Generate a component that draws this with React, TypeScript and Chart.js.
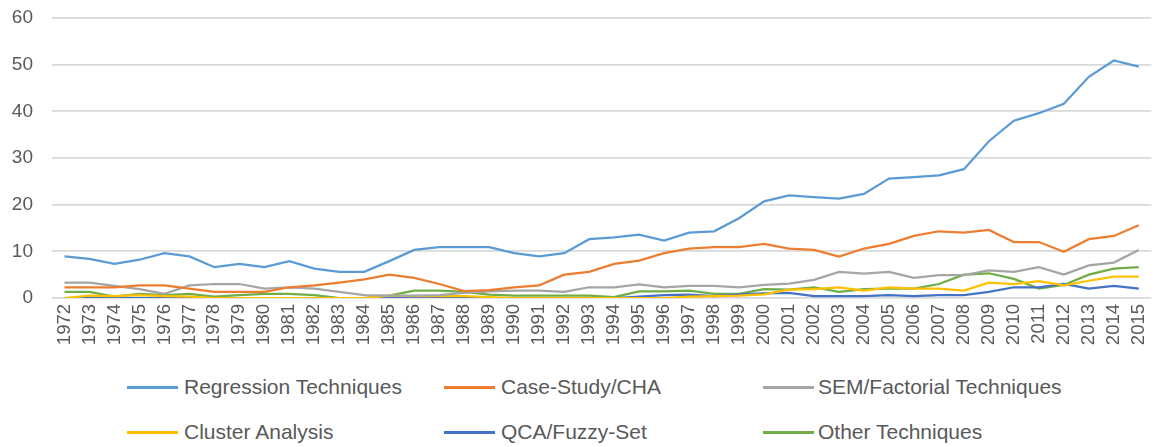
import React, { useEffect, useRef } from "react";
import { Chart, registerables } from "chart.js";

Chart.register(...registerables);

const years: string[] = [
  "1972","1973","1974","1975","1976","1977","1978","1979","1980","1981",
  "1982","1983","1984","1985","1986","1987","1988","1989","1990","1991",
  "1992","1993","1994","1995","1996","1997","1998","1999","2000","2001",
  "2002","2003","2004","2005","2006","2007","2008","2009","2010","2011",
  "2012","2013","2014","2015",
];

const regression: number[] = [
  8.9, 8.4, 7.3, 8.2, 9.6, 8.9, 6.6, 7.3, 6.6, 7.9,
  6.3, 5.6, 5.6, 7.9, 10.3, 10.9, 10.9, 10.9, 9.6, 8.9,
  9.6, 12.6, 13.0, 13.6, 12.3, 14.0, 14.3, 17.1, 20.7, 22.0,
  21.6, 21.3, 22.3, 25.6, 25.9, 26.3, 27.6, 33.6, 38.0, 39.6,
  41.6, 47.4, 50.9, 49.6,
];

const caseStudy: number[] = [
  2.3, 2.3, 2.3, 2.7, 2.7, 2.0, 1.3, 1.3, 1.3, 2.3,
  2.7, 3.3, 4.0, 5.0, 4.3, 3.0, 1.5, 1.7, 2.3, 2.7,
  5.0, 5.6, 7.3, 8.0, 9.6, 10.6, 10.9, 10.9, 11.6, 10.6,
  10.3, 8.9, 10.6, 11.6, 13.3, 14.3, 14.0, 14.6, 12.0, 12.0,
  9.9, 12.6, 13.3, 15.6,
];

const sem: number[] = [
  3.3, 3.3, 2.6, 1.9, 0.9, 2.7, 3.0, 3.0, 2.0, 2.3,
  2.0, 1.3, 0.6, 0.5, 0.5, 0.6, 1.1, 1.4, 1.6, 1.6,
  1.3, 2.3, 2.3, 2.9, 2.3, 2.6, 2.6, 2.3, 2.8, 3.1,
  3.9, 5.6, 5.2, 5.6, 4.3, 4.9, 4.9, 5.9, 5.6, 6.6,
  5.0, 7.0, 7.6, 10.3,
];

const cluster: number[] = [
  0.0, 0.5, 0.4, 0.6, 0.4, 0.3, 0.0, 0.0, 0.0, 0.0,
  0.0, 0.0, 0.0, 0.5, 0.4, 0.4, 0.4, 0.2, 0.0, 0.0,
  0.0, 0.0, 0.0, 0.0, 0.0, 0.3, 0.4, 0.5, 0.8, 1.8,
  1.9, 2.3, 1.6, 2.3, 2.0, 2.0, 1.6, 3.3, 3.0, 3.6,
  2.7, 3.7, 4.6, 4.6,
];

const qca: number[] = [
  0, 0, 0, 0, 0, 0, 0, 0, 0, 0,
  0, 0, 0, 0, 0, 0, 0, 0, 0, 0,
  0, 0, 0, 0.3, 0.6, 0.7, 0.4, 0.8, 1.0, 1.1,
  0.4, 0.4, 0.4, 0.6, 0.4, 0.6, 0.6, 1.3, 2.3, 2.3,
  3.0, 2.0, 2.6, 2.0,
];

const other: number[] = [
  1.3, 1.3, 0.3, 0.9, 0.6, 0.9, 0.3, 0.6, 0.9, 0.9,
  0.6, 0.0, 0.0, 0.5, 1.6, 1.6, 1.3, 0.7, 0.5, 0.5,
  0.5, 0.5, 0.2, 1.4, 1.4, 1.6, 0.9, 0.9, 1.9, 1.8,
  2.3, 1.3, 1.9, 2.0, 2.0, 3.0, 5.0, 5.3, 4.1, 2.0,
  2.8, 5.0, 6.3, 6.6,
];

const seriesNames: string[] = [
  "Regression Techniques",
  "Case-Study/CHA",
  "SEM/Factorial Techniques",
  "Cluster Analysis",
  "QCA/Fuzzy-Set",
  "Other Techniques",
];

const seriesColors: string[] = ["#5B9BD5", "#ED7D31", "#A5A5A5", "#FFC000", "#4472C4", "#70AD47"];

const yTicks: number[] = [0, 10, 20, 30, 40, 50, 60];

const FONT = "'Liberation Sans', Arial, sans-serif";

export default function App() {
  const canvasRef = useRef<HTMLCanvasElement | null>(null);

  useEffect(() => {
    if (!canvasRef.current) return;
    const values = [regression, caseStudy, sem, cluster, qca, other];
    const chart = new Chart(canvasRef.current, {
      type: "line",
      data: {
        labels: years,
        datasets: values.map((v, i) => ({
          label: seriesNames[i],
          data: v,
          borderColor: seriesColors[i],
          backgroundColor: seriesColors[i],
          borderWidth: 2.25,
          pointRadius: 0,
          tension: 0,
          fill: false,
        })),
      },
      options: {
        animation: false,
        responsive: false,
        layout: { padding: { top: 18, left: 0, right: 0, bottom: 0 } },
        plugins: {
          legend: { display: false },
          tooltip: { enabled: false },
        },
        scales: {
          x: {
            offset: true,
            grid: { display: false, drawTicks: false },
            border: { display: false },
            ticks: {
              autoSkip: false,
              maxRotation: 90,
              minRotation: 90,
              color: "#595959",
              padding: 6,
              font: { family: FONT, size: 18.5 },
            },
            afterFit: (scale: any) => {
              scale.height = 62;
            },
          },
          y: {
            min: 0,
            max: 60,
            afterBuildTicks: (scale: any) => {
              scale.ticks = yTicks.map((v) => ({ value: v }));
            },
            grid: { color: "#d9d9d9", lineWidth: 1.75, drawTicks: false },
            border: { display: false },
            ticks: {
              color: "#595959",
              padding: 19,
              font: { family: FONT, size: 19 },
            },
            afterFit: (scale: any) => {
              scale.width = 52;
              scale.paddingTop = 0;
              scale.paddingBottom = 0;
            },
          },
        },
      },
    });
    return () => chart.destroy();
  }, []);

  const legendCols = [
    { line: 127, text: 184 },
    { line: 444, text: 501 },
    { line: 763, text: 818 },
  ];
  const legendRows = [387, 432];

  return (
    <div
      style={{
        position: "absolute",
        left: 0,
        top: 0,
        width: 1160,
        height: 447,
        overflow: "hidden",
        background: "#ffffff",
      }}
    >
      <canvas
        ref={canvasRef}
        width={1167}
        height={360}
        style={{ position: "absolute", left: 0, top: 0, width: 1167, height: 360 }}
      />
      {seriesNames.map((name, i) => {
        const col = legendCols[i % 3];
        const rowY = legendRows[Math.floor(i / 3)];
        return (
          <React.Fragment key={name}>
            <div
              style={{
                position: "absolute",
                left: col.line,
                top: rowY - 1.5,
                width: 51,
                height: 3,
                background: seriesColors[i],
              }}
            />
            <div
              style={{
                position: "absolute",
                left: col.text,
                top: rowY - 14,
                height: 28,
                lineHeight: "28px",
                fontFamily: FONT,
                fontSize: 21,
                color: "#595959",
                whiteSpace: "nowrap",
              }}
            >
              {name}
            </div>
          </React.Fragment>
        );
      })}
    </div>
  );
}
